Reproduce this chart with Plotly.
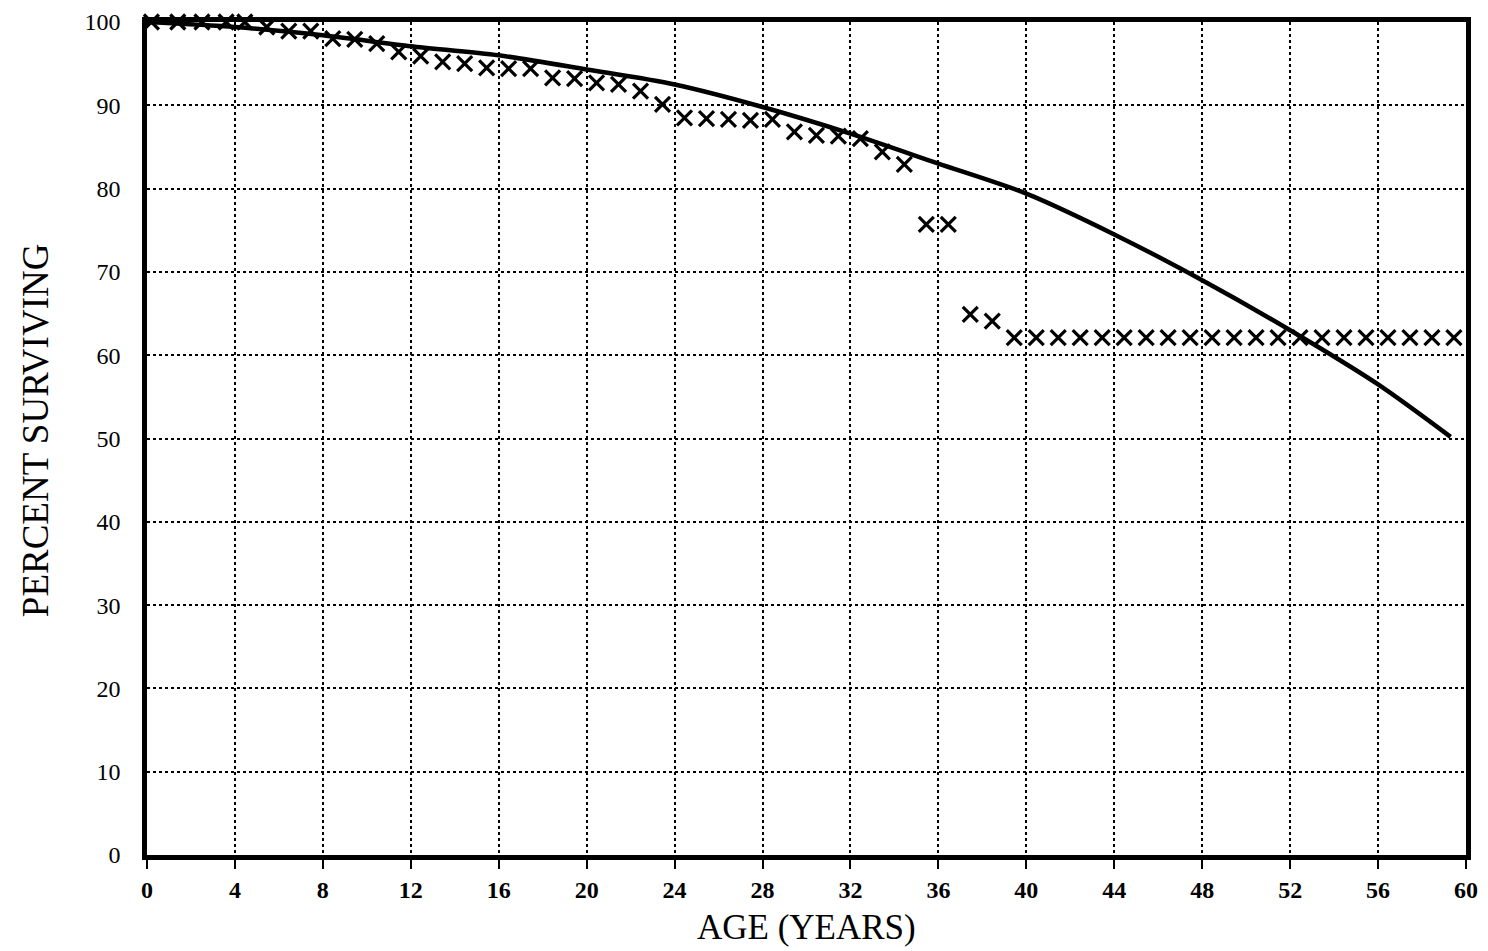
import plotly.graph_objects as go

# Observed survival (x markers)
obs_age = [0.2, 1.4, 2.5, 3.6, 4.45, 5.45, 6.45, 7.45, 8.45, 9.45,
           10.45, 11.45, 12.45, 13.45, 14.45, 15.45, 16.45, 17.45, 18.45, 19.45,
           20.45, 21.45, 22.45, 23.45, 24.45, 25.45, 26.45, 27.45, 28.45, 29.45,
           30.45, 31.45, 32.45, 33.45, 34.45, 35.45, 36.45, 37.45, 38.45, 39.45,
           40.45, 41.45, 42.45, 43.45, 44.45, 45.45, 46.45, 47.45, 48.45, 49.45,
           50.45, 51.45, 52.45, 53.45, 54.45, 55.45, 56.45, 57.45, 58.45, 59.45]
obs_pct = [100, 100, 100, 100, 100, 99.4, 98.9, 98.9, 98.0, 97.9,
           97.4, 96.4, 95.9, 95.2, 95.0, 94.5, 94.4, 94.4, 93.3, 93.2,
           92.7, 92.5, 91.7, 90.1, 88.5, 88.4, 88.3, 88.2, 88.3, 86.8,
           86.4, 86.3, 86.0, 84.4, 82.9, 75.7, 75.7, 64.9, 64.1, 62.1,
           62.1, 62.1, 62.1, 62.1, 62.1, 62.1, 62.1, 62.1, 62.1, 62.1,
           62.1, 62.1, 62.1, 62.1, 62.1, 62.1, 62.1, 62.1, 62.1, 62.1]

# Expected survival (smooth curve)
exp_age = [0, 4, 8, 12, 16, 20, 24, 28, 32, 36, 40, 44, 48, 52, 56, 59.3]
exp_pct = [100, 99.4, 98.4, 97.1, 96.0, 94.3, 92.5, 89.8, 86.6, 83.0,
           79.4, 74.5, 69.0, 63.0, 56.5, 50.2]

x_ticks = [0, 4, 8, 12, 16, 20, 24, 28, 32, 36, 40, 44, 48, 52, 56, 60]
y_ticks = [0, 10, 20, 30, 40, 50, 60, 70, 80, 90, 100]

x_title = "AGE (YEARS)"
y_title = "PERCENT SURVIVING"

serif = "Liberation Serif, Times New Roman, serif"

fig = go.Figure()
fig.add_trace(go.Scatter(
    x=exp_age, y=exp_pct, mode="lines",
    line=dict(color="black", width=4.5, shape="spline", smoothing=0.8),
    showlegend=False, hoverinfo="skip"))
fig.add_trace(go.Scatter(
    x=obs_age, y=obs_pct, mode="markers",
    marker=dict(symbol="x-thin-open", size=15, color="black",
                line=dict(color="black", width=3.2)),
    cliponaxis=False, showlegend=False))

fig.update_layout(
    width=1488, height=951,
    margin=dict(l=139, r=30, t=14, b=104),
    paper_bgcolor="white", plot_bgcolor="white",
    font=dict(family=serif, color="black"),
)
fig.update_xaxes(
    range=[0, 60], tickvals=x_ticks, ticktext=[str(v) for v in x_ticks],
    automargin=False, ticklabeloverflow="allow",
    showgrid=True, gridcolor="black", griddash="dot", gridwidth=1.5,
    showline=True, linecolor="black", linewidth=4.5, mirror=True,
    ticks="outside", ticklen=9, tickwidth=2, tickcolor="black",
    tickfont=dict(family=serif, size=24, color="black", weight="bold"),
    zeroline=False,
)
fig.update_yaxes(
    range=[0, 100], tickvals=y_ticks, ticktext=[str(v) for v in y_ticks],
    automargin=False, ticklabeloverflow="allow",
    showgrid=True, gridcolor="black", griddash="dot", gridwidth=1.5,
    showline=True, linecolor="black", linewidth=4.5, mirror=True,
    ticks="", ticklabelstandoff=17,
    tickfont=dict(family=serif, size=24, color="black"),
    zeroline=False,
)

fig.add_annotation(
    text=x_title, xref="paper", yref="paper", x=0.5, y=-0.087,
    xanchor="center", yanchor="middle", showarrow=False,
    font=dict(family=serif, size=35, color="black"))
fig.add_annotation(
    text=y_title, xref="paper", yref="paper", x=-0.0849, y=0.51,
    xanchor="center", yanchor="middle", textangle=-90, showarrow=False,
    font=dict(family=serif, size=37, color="black"))

fig.write_html("out.html")
